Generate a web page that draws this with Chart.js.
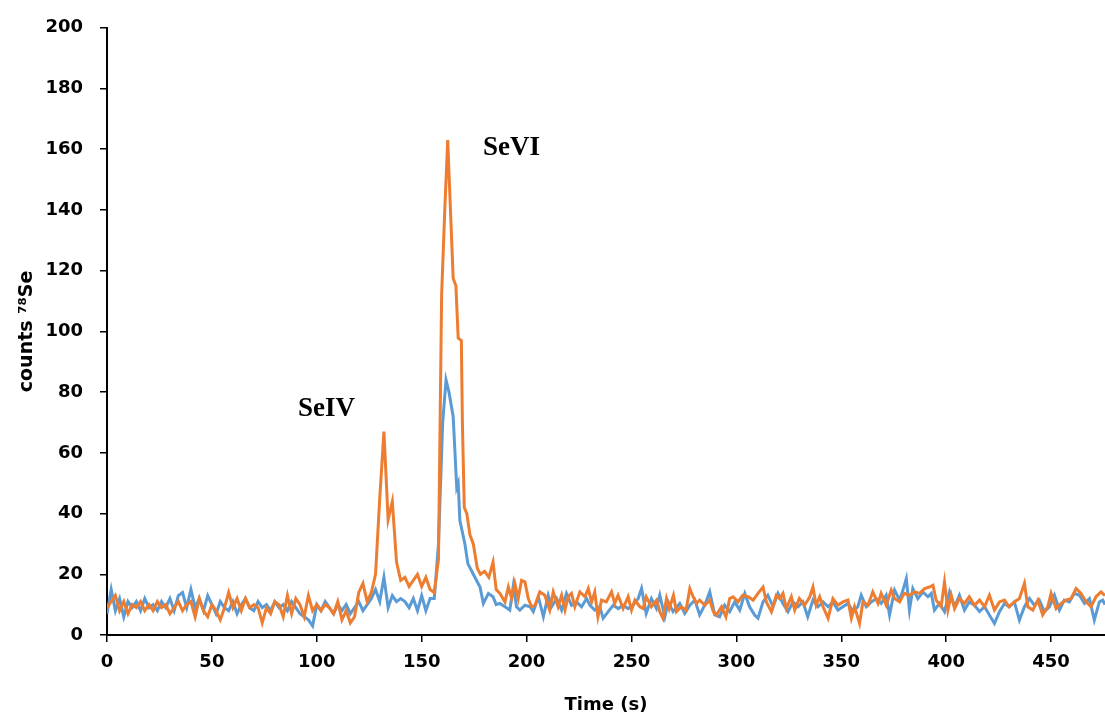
<!DOCTYPE html>
<html>
<head>
<meta charset="utf-8">
<script src="https://cdn.jsdelivr.net/npm/chart.js@4/dist/chart.umd.min.js"></script>
<style>
  html, body { margin: 0; padding: 0; background: #ffffff; }
  #wrap { width: 1105px; height: 722px; position: relative; }
</style>
</head>
<body>
<div id="wrap"><canvas id="c" width="1105" height="722"></canvas></div>
<script>
// ---- Data (time in s, counts) ----
const orangeT = [0,2,4,6,8,10,12,14,16,18,20,22,24,26,28,30,32,34,36,38,40,42,44,46,48,50,52,54,56,58,60,62,64,66,68,70,72,74,76,78,80,82,84,86,88,90,92,94,96,98,100,102,104,106,108,110,112,114,116,118,120,122,124,126,128,130,132,134,136,138,140,142,144,146,148,150,152,154,156,158,159.5,161,162.4,164,165,166.3,167.4,168.9,169.4,170.3,171.5,173,174.6,176.5,178,180,182,184,185.5,187.3,189.7,191.3,192.9,194.4,196,197.6,199.2,200.8,202.4,204,206.3,208.7,211,212.7,215,216.7,218.3,219.8,221.4,223,225.4,227.8,229.4,231,232.5,234,235.7,238,240.5,242,243.6,246,248.4,250,251.6,254,255.5,257,259.5,262,263.5,265,266.7,268,270,271.4,273.8,276,277.8,279.4,281,282.5,285,287.3,289,290.5,292.9,295,296.8,298.4,300.8,303,305.6,308,310.3,312.7,314.3,316.7,319,320.6,322.2,323.8,326.2,327.8,330,332.5,335,336.5,338,339.7,341.3,343.7,346,348.4,350.8,353.2,354.8,356.3,358.7,360.3,362.7,365,367.5,369,371.4,373.8,375.4,377.8,380,382.5,385,387.3,389.7,392,393.7,395.2,397.6,399.2,400.8,402.4,404,406.3,408.7,411,413.5,415.9,418.3,420.6,423,425.4,427.8,430,432.5,434.9,437.3,438.9,441.3,443.7,446,448.4,450,452.4,454.8,457,459.5,461.9,464.3,466.7,469,471.4,473.8,475.7];
const orangeV = [9,11,13,8,11,7,10,9,11,8,10,8,11,9,10,7,9,11,8,10,11,6,12,8,6,10,8,5,9,14,9,12,8,12,9,10,9,4,9,7,11,10,6,13,7,12,10,6,13,8,10,8,10,9,7,11,5,8,4,6,14,17,11,14,20,45,67,38,44,24,18,19,16,18,20,16,19,15,14,25,112,140,163,135,117.5,115,97.8,97,70,42,40,33,30,22,20,21,19,24,15,13.7,10.9,15.8,12,17,12,18,17.5,12,9.3,9.8,14.2,13.1,8.2,14.2,9.3,13.1,8.2,12.6,13.7,9.3,14.2,12.6,15.3,10.9,14.2,6,11.5,10.9,14.2,10.4,13.1,8.7,12.6,8.2,11.5,9.3,8.7,12.6,9.3,11.5,7.7,5.5,12,8.7,13.1,7.7,9.3,8.2,15.3,12.6,10.4,11.5,9.8,11.5,7.7,6.6,9.3,6,12,12.6,10.9,13.1,12.6,11.5,13.7,15.8,10.9,7.7,13.1,12,13.7,8.7,12.6,8.2,12,9.8,12.6,15.8,9.8,12.6,9.3,5.5,12,9.8,10.9,11.5,5.5,9.3,3.8,10.9,9.8,14.2,10.4,13.7,9.8,14.8,12,10.9,13.7,13.1,14.2,13.7,15.3,15.8,16.4,11.5,9.3,17.5,8.2,13.1,8.7,12,10.4,12.6,9.8,11.5,9.3,13.1,8.2,10.9,11.5,9.3,10.9,12,17,9.3,8.2,11.5,6.6,9.3,13.7,8.7,10.4,11.5,12,15.3,13.7,10.9,9.3,12.6,14.2,13];

const blueT = [0,2,4,6,8,10,12,14,16,18,20,22,24,26,28,30,32,34,36,38,40,42,44,46,48,50,52,54,56,58,60,62,64,66,68,70,72,74,76,78,80,82,84,86,88,90,92,94,96,98,100,102,104,106,108,110,112,114,116,118,120,122,124,126,128,130,132,134,136,138,140,142,144,146,148,150,152,154,156,158,160,161.6,163,165,166.7,167.4,168.2,170.6,172,174.6,177.8,179.4,181.8,184,185.5,187.3,189.7,192,193.7,195.2,196.8,199.2,201.6,203.2,205.6,208,210.3,211.9,214.3,216.7,219,221.4,223.8,226.2,228.6,230.2,232.5,234.9,236.5,238.9,241.3,243.7,246,248.4,250.8,253.2,254.8,257,259.5,261.9,263.5,265.9,267.5,269.8,273,275.4,277.8,280.2,282.5,284.9,287.3,289.7,292,294.4,296.8,299.2,301.6,304,306.3,308.7,310.3,312.7,315,317.5,319.8,322.2,324.6,327,329.4,331.7,334,336.5,338.9,341.3,343.7,346,348.4,350.8,353.2,355.6,357.9,359.5,361.9,364.3,366.7,369,371.4,373,375.4,377.8,379.4,381,382.5,384.1,386.5,388.9,391.3,392.9,394.4,396.8,399.2,401.6,404,406.3,408.7,411,413.5,415.9,418.3,420.6,423,425.4,427.8,430,432.5,434.9,437.3,439.7,442,444.4,446.8,449.2,451.6,454,456.3,458.7,461.1,463.5,465.9,468.3,470.6,473,474.6,475.7];
const blueV = [7,15,8,12,6,11,9,11,8,12,9,10,8,11,9,12,8,13,14,9,15,9,12,8,13,10,7,11,9,8,11,7,10,12,9,8,11,9,10,8,11,9,10,8,11,9,7,6,5,3,10,8,11,9,7,10,8,10,7,9,11,8,10,12,15,11,19,9,13,11,12,11,9,12,8,13,8,12,12,30,70,84,80,72,48.6,50,37.7,30,23.5,20,15.8,10.4,13.7,12.6,10,10.4,9.3,8.2,16.4,9.3,8.2,9.8,9.3,7.7,12.6,6,13.1,9.3,12,8.2,13.7,9.8,10.9,9.3,12,9.8,8.2,9.3,5.5,7.7,9.8,8.7,9.8,8.7,9.8,12,15.3,7.1,12,8.7,13.1,6,10.9,7.7,10.4,7.1,9.8,11.5,6.6,9.8,14.2,6.6,6,9.8,7.7,10.9,8.2,13.7,9.3,6.6,5.5,10.9,13.1,9.3,13.7,10.4,7.7,10.9,9.3,10.9,6,11.5,9.3,10.9,9.3,10.9,8.2,9.3,10.4,7.7,9.3,13.1,9.3,10.9,12,10.4,13.1,6.6,14.8,11.5,14.8,18.6,8.2,15.3,12,14.2,12.6,13.7,8.2,10.4,7.7,14.2,9.3,13.1,8.2,10.9,9.8,7.7,9.3,6.6,3.8,7.7,10.4,9.3,10.9,4.9,9.3,12,9.8,11.5,7.7,9.3,13.1,8.2,11.5,10.9,13.7,13.1,10.4,12,4.9,10.9,11.5,10];

const xTickValues = [0,50,100,150,200,250,300,350,400,450];
const yTickValues = [0,20,40,60,80,100,120,140,160,180,200];
const xTitle = 'Time (s)';
const yTitle = 'counts \u2077\u2078Se';

// peak annotations: text, time anchor (left), counts anchor (baseline)
const peakLabels = ['SeIV', 'SeVI'];
const peakLabelT = [91, 179.2];
const peakLabelV = [72.1, 158];

const toPoints = (ts, vs) => ts.map((t, i) => ({ x: t, y: vs[i] }));

const peakLabelPlugin = {
  id: 'peakLabels',
  afterDatasetsDraw(chart) {
    const { ctx, scales } = chart;
    ctx.save();
    ctx.fillStyle = '#000000';
    ctx.font = 'bold 27px "Liberation Serif", serif';
    ctx.textAlign = 'left';
    ctx.textBaseline = 'alphabetic';
    peakLabels.forEach((txt, i) => {
      ctx.fillText(txt, scales.x.getPixelForValue(peakLabelT[i]), scales.y.getPixelForValue(peakLabelV[i]));
    });
    ctx.restore();
  }
};

const tickFont = { family: '"DejaVu Sans", sans-serif', size: 18, weight: 'bold' };

new Chart(document.getElementById('c'), {
  type: 'line',
  data: {
    datasets: [
      { label: 'orange', data: toPoints(orangeT, orangeV), borderColor: '#ED7D31', borderWidth: 3, pointRadius: 0, tension: 0, fill: false },
      { label: 'blue', data: toPoints(blueT, blueV), borderColor: '#5B9BD5', borderWidth: 3, pointRadius: 0, tension: 0, fill: false }
    ]
  },
  options: {
    responsive: false,
    animation: false,
    events: [],
    layout: { padding: { top: 25, right: 0, bottom: 0, left: 0 } },
    plugins: { legend: { display: false }, tooltip: { enabled: false } },
    scales: {
      x: {
        type: 'linear',
        min: 0,
        max: 475.7,
        afterBuildTicks(scale) { scale.ticks = xTickValues.map(v => ({ value: v })); },
        afterFit(scale) { scale.height = 87; },
        ticks: { color: '#000', font: tickFont, padding: 10, maxRotation: 0, autoSkip: false },
        grid: { drawOnChartArea: false, drawTicks: true, tickLength: 7, color: '#000', lineWidth: 1.5 },
        border: { display: true, color: '#000', width: 2 },
        title: { display: true, text: xTitle, color: '#000', font: { family: '"DejaVu Sans", sans-serif', size: 18, weight: 'bold' }, padding: { top: 0, bottom: 6 } }
      },
      y: {
        type: 'linear',
        min: 0,
        max: 200,
        afterBuildTicks(scale) { scale.ticks = yTickValues.map(v => ({ value: v })); },
        afterFit(scale) { scale.width = 107; },
        ticks: { color: '#000', font: tickFont, padding: 17 },
        grid: { drawOnChartArea: false, drawTicks: true, tickLength: 7, color: '#000', lineWidth: 1.5 },
        border: { display: true, color: '#000', width: 2 },
        title: { display: true, text: yTitle, color: '#000', font: { family: '"DejaVu Sans", sans-serif', size: 19, weight: 'bold' }, padding: { top: 16, bottom: 0 } }
      }
    }
  },
  plugins: [peakLabelPlugin]
});
</script>
</body>
</html>
